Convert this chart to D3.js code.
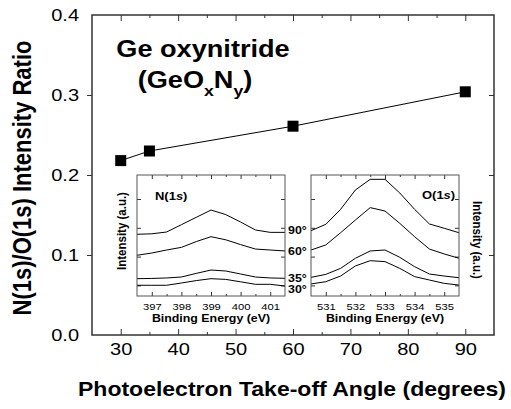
<!DOCTYPE html>
<head>
  <meta charset="utf-8">
  <title>N/O ratio vs take-off angle</title>
  <style>
    body { margin: 0; background: white; }
    svg text { font-family: "Liberation Sans", Arial, Helvetica, sans-serif; fill: black; }
    .frame { fill: none; stroke: #333; stroke-width: 1.5; }
    .inset-frame { fill: none; stroke: #555; stroke-width: 1; }
    .axis path.domain { display: none; }
    .axis line { stroke: #333; }
    .curve { fill: none; stroke: black; stroke-width: 1; }
  </style>
</head>
<body>
  <div id="chart"></div>
  <script src="https://cdn.jsdelivr.net/npm/d3@7"></script>
  <script>
    // main series
    const angles = [30, 35, 60, 90];
    const ratio = [0.218, 0.230, 0.261, 0.304];
    const xMajor = [30, 40, 50, 60, 70, 80, 90];
    const xMinor = [35, 45, 55, 65, 75, 85];
    const yTicks = [0.0, 0.1, 0.2, 0.3, 0.4];

    // inset spectra (arbitrary intensity units)
    const n1sEnergy = [396.5, 397, 397.5, 398, 398.5, 399, 399.5, 400, 400.5, 401, 401.5];
    const n1s90 = [5.06, 5.1, 5.25, 5.86, 6.47, 7.08, 6.7, 6.08, 5.42, 5.22, 5.22];
    const n1s60 = [3.31, 3.5, 3.75, 3.97, 4.45, 4.86, 4.6, 4.2, 3.83, 3.75, 3.67];
    const n1s35 = [1.36, 1.38, 1.42, 1.5, 1.8, 2.08, 2.0, 1.75, 1.5, 1.42, 1.39];
    const n1s30 = [0.81, 0.81, 0.81, 1.0, 1.2, 1.36, 1.3, 1.1, 0.89, 0.89, 0.75];

    const o1sEnergy = [530.5, 531, 531.5, 532, 532.5, 533, 533.5, 534, 534.5, 535, 535.5];
    const o1s90 = [5.36, 5.89, 7.14, 8.75, 9.64, 9.64, 8.5, 7.14, 5.92, 5.56, 5.19];
    const o1s60 = [3.75, 4.17, 5.19, 6.25, 7.28, 7.0, 5.97, 4.86, 3.83, 3.42, 3.06];
    const o1s35 = [1.47, 1.72, 2.22, 3.06, 3.67, 3.75, 3.14, 2.36, 1.75, 1.58, 1.44];
    const o1s30 = [0.92, 1.11, 1.58, 2.42, 2.86, 2.78, 2.22, 1.53, 1.25, 0.97, 0.83];

    const curveLabels = ["90°", "60°", "35°", "30°"];
    const n1sTicks = [397, 398, 399, 400, 401];
    const o1sTicks = [531, 532, 533, 534, 535];
    const insetYTicks = [0.8, 3.2, 5.6, 8.0];

    const width = 511, height = 409;
    const SX = 1.18; // the original picture is stretched sideways

    const svg = d3.select("#chart").append("svg")
      .attr("width", width).attr("height", height);

    function label(x, y, txt, size, opts) {
      opts = opts || {};
      return svg.append("text")
        .attr("transform", `translate(${x},${y}) scale(${SX},1)` + (opts.rot ? ` rotate(${opts.rot})` : ""))
        .attr("text-anchor", opts.anchor || "middle")
        .attr("font-size", size)
        .attr("font-weight", opts.weight || "bold")
        .text(txt);
    }

    // ---- main plot ----
    const mLeft = 92, mRight = 494, mTop = 15, mBottom = 335;
    const x = d3.scaleLinear().domain([25, 95]).range([mLeft, mRight]);
    const y = d3.scaleLinear().domain([0, 0.4]).range([mBottom, mTop]);

    const gBottom = svg.append("g").attr("class", "axis")
      .attr("transform", `translate(0,${mBottom})`)
      .call(d3.axisBottom(x).tickValues(xMajor).tickSizeInner(-6).tickSizeOuter(0).tickPadding(8));
    gBottom.selectAll("text").attr("font-size", 17).attr("transform", `scale(${SX},1)`);
    svg.append("g").attr("class", "axis").attr("transform", `translate(0,${mBottom})`)
      .call(d3.axisBottom(x).tickValues(xMinor).tickSizeInner(-3).tickSizeOuter(0).tickFormat(""));
    svg.append("g").attr("class", "axis").attr("transform", `translate(0,${mTop})`)
      .call(d3.axisTop(x).tickValues(xMajor).tickSizeInner(-6).tickSizeOuter(0).tickFormat(""));
    svg.append("g").attr("class", "axis").attr("transform", `translate(0,${mTop})`)
      .call(d3.axisTop(x).tickValues(xMinor).tickSizeInner(-3).tickSizeOuter(0).tickFormat(""));

    const gLeft = svg.append("g").attr("class", "axis")
      .attr("transform", `translate(${mLeft},0)`)
      .call(d3.axisLeft(y).tickValues(yTicks).tickSizeInner(5).tickSizeOuter(0).tickPadding(6)
        .tickFormat(d3.format(".1f")));
    gLeft.selectAll("text").attr("font-size", 17).attr("transform", `scale(${SX},1)`);
    gLeft.selectAll(".tick line").filter(d => d === 0 || d === 0.4).remove();
    svg.append("g").attr("class", "axis").attr("transform", `translate(${mRight},0)`)
      .call(d3.axisRight(y).tickValues([0.1, 0.2, 0.3]).tickSizeInner(-5).tickSizeOuter(0).tickFormat(""));

    svg.append("rect").attr("class", "frame")
      .attr("x", mLeft).attr("y", mTop).attr("width", mRight - mLeft).attr("height", mBottom - mTop);

    const pts = angles.map((a, i) => [a, ratio[i]]);
    svg.append("path").attr("class", "curve")
      .attr("d", d3.line().x(d => x(d[0])).y(d => y(d[1]))(pts));
    svg.selectAll(".marker").data(pts).enter().append("rect")
      .attr("class", "marker")
      .attr("x", d => x(d[0]) - 5.5).attr("y", d => y(d[1]) - 5.5)
      .attr("width", 11).attr("height", 11).attr("fill", "black");

    label(292, 396, "Photoelectron Take-off Angle (degrees)", 19.5);
    label(31, 178, "N(1s)/O(1s) Intensity Ratio", 22, { rot: -90 });

    // title
    label(203, 57, "Ge oxynitride", 23);
    const t2 = label(195, 88, "", 23);
    t2.append("tspan").text("(GeO");
    t2.append("tspan").attr("font-size", 15).attr("dy", 8).text("x");
    t2.append("tspan").attr("dy", -8).text("N");
    t2.append("tspan").attr("font-size", 15).attr("dy", 8).text("y");
    t2.append("tspan").attr("dy", -8).text(")");

    // ---- insets ----
    function inset(x0, x1, domain, ticks, series) {
      const it = 175, ib = 296;
      const ix = d3.scaleLinear().domain(domain).range([x0, x1]);
      const iy = d3.scaleLinear().domain([0, 10]).range([295, 175]);
      const minor = ticks.map(t => t - 0.5).concat([ticks[ticks.length - 1] + 0.5])
        .filter(t => t > domain[0] && t < domain[1]);

      const gb = svg.append("g").attr("class", "axis").attr("transform", `translate(0,${ib})`)
        .call(d3.axisBottom(ix).tickValues(ticks).tickFormat(d3.format("d"))
          .tickSizeInner(-4).tickSizeOuter(0).tickPadding(7));
      gb.selectAll("text").attr("font-size", 9.5).attr("transform", `scale(${SX},1)`);
      svg.append("g").attr("class", "axis").attr("transform", `translate(0,${ib})`)
        .call(d3.axisBottom(ix).tickValues(minor).tickSizeInner(-2).tickSizeOuter(0).tickFormat(""));
      svg.append("g").attr("class", "axis").attr("transform", `translate(0,${it})`)
        .call(d3.axisTop(ix).tickValues(ticks).tickSizeInner(-4).tickSizeOuter(0).tickFormat(""));
      svg.append("g").attr("class", "axis").attr("transform", `translate(0,${it})`)
        .call(d3.axisTop(ix).tickValues(minor).tickSizeInner(-2).tickSizeOuter(0).tickFormat(""));
      svg.append("g").attr("class", "axis").attr("transform", `translate(${x0},0)`)
        .call(d3.axisLeft(iy).tickValues(insetYTicks).tickSizeInner(-4).tickSizeOuter(0).tickFormat(""));
      svg.append("g").attr("class", "axis").attr("transform", `translate(${x1},0)`)
        .call(d3.axisRight(iy).tickValues(insetYTicks).tickSizeInner(-4).tickSizeOuter(0).tickFormat(""));

      const line = d3.line().x(d => ix(d[0])).y(d => iy(d[1]));
      series.forEach(s => {
        svg.append("path").attr("class", "curve").attr("d", line(s));
      });

      svg.append("rect").attr("class", "inset-frame")
        .attr("x", x0).attr("y", it).attr("width", x1 - x0).attr("height", ib - it);
      label((x0 + x1) / 2, 322, "Binding Energy (eV)", 10.5);
    }

    const zipE = (e, v) => e.map((d, i) => [d, v[i]]);
    inset(137, 285, [396.5, 401.5], n1sTicks,
      [n1s90, n1s60, n1s35, n1s30].map(v => zipE(n1sEnergy, v)));
    inset(311, 459, [530.5, 535.5], o1sTicks,
      [o1s90, o1s60, o1s35, o1s30].map(v => zipE(o1sEnergy, v)));

    const nl = label(155, 200, "", 11, { anchor: "start" });
    nl.append("tspan").text("N(1");
    nl.append("tspan").attr("font-style", "italic").text("s");
    nl.append("tspan").text(")");
    const ol = label(422, 199, "", 11, { anchor: "start" });
    ol.append("tspan").text("O(1");
    ol.append("tspan").attr("font-style", "italic").text("s");
    ol.append("tspan").text(")");

    label(126, 231, "Intensity (a.u.)", 11.5, { rot: -90 });
    label(473, 240, "Intensity (a.u.)", 11.5, { rot: 90 });

    const curveLabelY = [234, 255, 282, 293];
    curveLabels.forEach((t, i) => label(288, curveLabelY[i], t, 10.5, { anchor: "start" }));
  </script>
</body>
